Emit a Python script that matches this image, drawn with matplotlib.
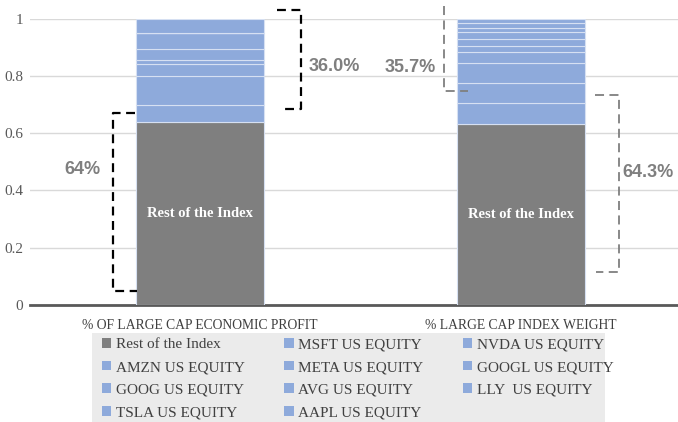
import numpy as np
import matplotlib
matplotlib.use("Agg")
import matplotlib.pyplot as plt
from matplotlib.patches import Patch, Rectangle

# categories and stacked values
categories = ["% OF LARGE CAP ECONOMIC PROFIT", "% LARGE CAP INDEX WEIGHT"]
series_names = ["Rest of the Index", "MSFT US EQUITY", "NVDA US EQUITY", "AMZN US EQUITY",
                "META US EQUITY", "GOOGL US EQUITY", "GOOG US EQUITY", "AVG US EQUITY",
                "LLY  US EQUITY", "TSLA US EQUITY", "AAPL US EQUITY"]
econ_profit = [0.640, 0.057, 0.104, 0.042, 0.012, 0.039, 0.054, 0.0, 0.0, 0.0, 0.052]
index_weight = [0.632, 0.074, 0.070, 0.069, 0.037, 0.024, 0.024, 0.022, 0.015, 0.018, 0.015]
bar_labels = ["64%", "36.0%", "35.7%", "64.3%"]

gray = "#7f7f7f"
blue = "#8eaadb"
serif = "Liberation Serif"

fig = plt.figure(figsize=(6.78, 4.22), dpi=100)
ax = fig.add_axes([0.044, 0.277, 0.956, 0.679])

x = np.arange(len(categories))
width = 0.4
bottom = np.zeros(len(categories))
for i, name in enumerate(series_names):
    vals = np.array([econ_profit[i], index_weight[i]])
    ax.bar(x, vals, width, bottom=bottom, color=gray if i == 0 else blue,
           edgecolor="#d6e0f2", linewidth=0.8, zorder=3)
    bottom += vals

for xi, v in zip(x, [econ_profit[0], index_weight[0]]):
    ax.text(xi, v / 2, "Rest of the Index", ha="center", va="center", color="white",
            fontsize=10.5, fontweight="bold", family=serif, zorder=4)

ax.set_xlim(-0.53, 1.49)
ax.set_ylim(0, 1)
ax.set_yticks([0, 0.2, 0.4, 0.6, 0.8, 1])
ax.set_yticklabels(["0", "0.2", "0.4", "0.6", "0.8", "1"], family=serif, fontsize=11, color="#595959")
ax.set_xticks(x)
ax.set_xticklabels(categories, family=serif, fontsize=9.8, color="#404040")
ax.tick_params(length=0, pad=5)
ax.tick_params(axis="x", pad=10)
ax.yaxis.grid(True, color="#d9d9d9", linewidth=1, zorder=0)
for s in ["top", "right", "left"]:
    ax.spines[s].set_visible(False)
ax.spines["bottom"].set_color("#595959")
ax.spines["bottom"].set_linewidth(2)

# brackets
blk = dict(color="black", linestyle=(0, (4, 2.5)), linewidth=1.6, clip_on=False, zorder=5)
ax.plot([-0.202, -0.272, -0.272, -0.196], [0.672, 0.672, 0.050, 0.050], **blk)
ax.plot([0.240, 0.315, 0.315, 0.255], [1.029, 1.029, 0.683, 0.683], **blk)
gry = dict(color=gray, linestyle=(0, (5, 3)), linewidth=1.3, clip_on=False, zorder=5)
ax.plot(x[1] + np.array([-0.240, -0.240, -0.165]), [1.043, 0.746, 0.746], **gry)
ax.plot(x[1] + np.array([0.231, 0.306, 0.306, 0.236]), [0.735, 0.735, 0.116, 0.116], **gry)

lab = dict(fontsize=13, fontweight="bold", color=gray, family="Liberation Sans", va="center")
ax.text(-0.365, 0.473, bar_labels[0], ha="center", **lab)
ax.text(0.34, 0.834, bar_labels[1], ha="left", **lab)
ax.text(x[1] - 0.265, 0.828, bar_labels[2], ha="right", **lab)
ax.text(x[1] + 0.317, 0.463, bar_labels[3], ha="left", **lab)

# legend box
fig.patches.append(Rectangle((92 / 678, 0), (605 - 92) / 678, (422 - 333) / 422,
                             transform=fig.transFigure, facecolor="#ebebeb", edgecolor="none"))
handles = [Patch(facecolor=gray if i == 0 else blue) for i in range(len(series_names))]
order = [0, 3, 6, 9, 1, 4, 7, 10, 2, 5, 8]
leg = fig.legend([handles[i] for i in order], [series_names[i] for i in order],
                 ncol=3, loc="upper left", bbox_to_anchor=(99 / 678, 1 - 335 / 422),
                 frameon=False, prop={"family": serif, "size": 11},
                 handlelength=0.6, handleheight=0.6, handletextpad=0.3,
                 columnspacing=2.6, labelspacing=0.62, borderaxespad=0, borderpad=0.2)
for t in leg.get_texts():
    t.set_color("#404040")

fig.savefig("out.png", dpi=100)
